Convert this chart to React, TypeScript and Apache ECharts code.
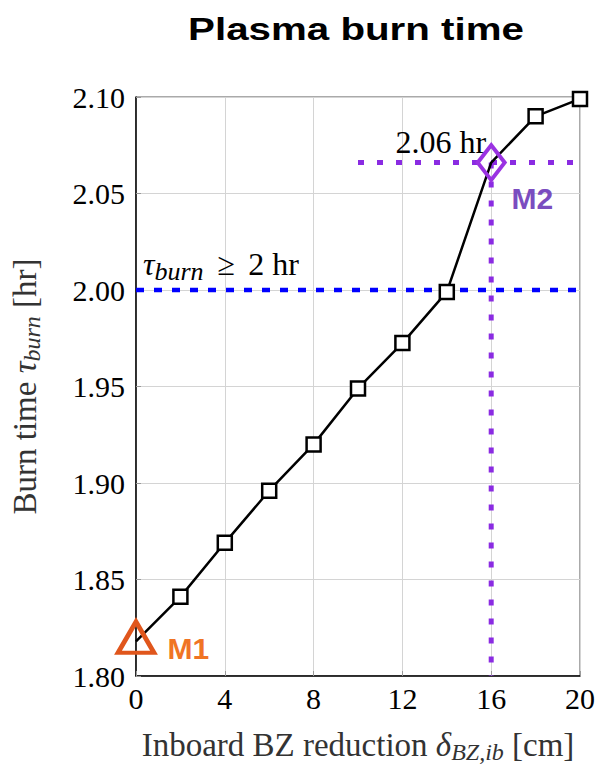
import React, { useEffect, useRef } from "react";
import * as echarts from "echarts";

const reductionCm = [0, 2, 4, 6, 8, 10, 12, 14, 16, 18, 20];
const burnTimeHr = [1.818, 1.841, 1.869, 1.896, 1.92, 1.949, 1.9725, 1.999, 2.066, 2.09, 2.099];
const xTicks = [0, 4, 8, 12, 16, 20];
const yTicks = [1.8, 1.85, 1.9, 1.95, 2.0, 2.05, 2.1];
const requirementHr = 2.0;
const m1 = [0, 1.818];
const m2 = [16, 2.066];
const m2HLineFromX = 10;

const SERIF = "'Liberation Serif', 'DejaVu Serif', serif";
const SANS = "'Liberation Sans', Arial, sans-serif";

export default function App() {
  const ref = useRef<HTMLDivElement>(null);
  useEffect(() => {
    if (!ref.current) return;
    const chart = echarts.init(ref.current, null, { renderer: "svg" });
    const mainPts = reductionCm.map((x, i) => [x, burnTimeHr[i]]);
    const squarePts = mainPts.filter((p) => p[0] !== m1[0] && p[0] !== m2[0]);
    const nameRich = {
      n: { fontFamily: SERIF, fontSize: 33, color: "#333" },
      g: { fontFamily: SERIF, fontSize: 33, fontStyle: "italic", color: "#333" },
      s: { fontFamily: SERIF, fontSize: 24, fontStyle: "italic", color: "#333", padding: [14, 0, 0, 0] },
    };
    chart.setOption({
      animation: false,
      backgroundColor: "#ffffff",
      graphic: [
        {
          type: "text",
          x: 356,
          y: 29,
          scaleX: 1.3,
          style: {
            text: "Plasma burn time",
            fontFamily: SANS,
            fontWeight: "bold",
            fontSize: 31,
            fill: "#000",
            align: "center",
            verticalAlign: "middle",
          },
        },
      ],
      grid: {
        left: 136,
        right: 19,
        top: 97,
        bottom: 89,
        show: true,
        borderColor: "#555",
        borderWidth: 1,
        outerBoundsMode: "none",
        containLabel: false,
      },
      xAxis: {
        type: "value",
        min: 0,
        max: 20,
        interval: 4,
        name: "{n|Inboard BZ reduction }{g|δ}{s|BZ,ib}{n| [cm]}",
        nameLocation: "middle",
        nameGap: 50,
        nameTextStyle: { rich: nameRich },
        axisLine: { show: true, lineStyle: { color: "#000", width: 1.5 } },
        axisTick: { show: true, inside: true, length: 5, lineStyle: { color: "#999" } },
        axisLabel: {
          fontFamily: SERIF,
          fontSize: 30,
          color: "#000",
          margin: 7,
          customValues: xTicks,
        },
        splitLine: { show: true, lineStyle: { color: "#d4d4d4", width: 1 } },
      },
      yAxis: {
        type: "value",
        min: 1.8,
        max: 2.1,
        interval: 0.05,
        name: "{n|Burn time }{g|τ}{s|burn}{n| [hr]}",
        nameLocation: "middle",
        nameGap: 92,
        nameRotate: 90,
        nameTextStyle: { rich: nameRich },
        axisLine: { show: true, lineStyle: { color: "#000", width: 1.5 } },
        axisTick: { show: true, inside: true, length: 5, lineStyle: { color: "#999" } },
        axisLabel: {
          fontFamily: SERIF,
          fontSize: 30,
          color: "#000",
          margin: 11,
          formatter: (v: number) => (yTicks.some((t) => Math.abs(t - v) < 1e-9) ? v.toFixed(2) : ""),
        },
        splitLine: { show: true, lineStyle: { color: "#d4d4d4", width: 1 } },
      },
      series: [
        {
          type: "line",
          data: mainPts,
          showSymbol: false,
          symbol: "none",
          lineStyle: { color: "#000", width: 2.5 },
          z: 3,
        },
        {
          type: "line",
          data: [
            [0, requirementHr],
            [20, requirementHr],
          ],
          symbol: "none",
          lineStyle: { color: "#0000ff", width: 4.5, type: [8, 10] },
          z: 4,
        },
        {
          type: "line",
          data: [
            [m2HLineFromX, m2[1]],
            [20, m2[1]],
          ],
          symbol: "none",
          lineStyle: { color: "#8a2be2", width: 5, type: [6, 13] },
          z: 2,
        },
        {
          type: "line",
          data: [
            [m2[0], m2[1]],
            [m2[0], 1.8],
          ],
          symbol: "none",
          lineStyle: { color: "#8a2be2", width: 5, type: [6, 13] },
          z: 2,
        },
        {
          type: "scatter",
          data: squarePts,
          symbol: "rect",
          symbolSize: 14,
          itemStyle: { color: "#fff", borderColor: "#000", borderWidth: 2.5, opacity: 1 },
          z: 6,
        },
        {
          type: "scatter",
          data: [m1],
          symbol: "triangle",
          symbolSize: [36, 31],
          symbolOffset: [0, -4],
          itemStyle: { color: "rgba(0,0,0,0)", borderColor: "#e0561c", borderWidth: 4.5, opacity: 1 },
          label: {
            show: true,
            formatter: "M1",
            position: "right",
            offset: [6, 11],
            fontFamily: SANS,
            fontWeight: "bold",
            fontSize: 30,
            color: "#f07424",
          },
          z: 7,
        },
        {
          type: "scatter",
          data: [m2],
          symbol: "diamond",
          symbolSize: [27, 35],
          itemStyle: { color: "rgba(0,0,0,0)", borderColor: "#9a32e2", borderWidth: 4, opacity: 1 },
          label: {
            show: true,
            formatter: "M2",
            position: "right",
            offset: [0, 36],
            fontFamily: SANS,
            fontWeight: "bold",
            fontSize: 30,
            color: "#7a4cc0",
          },
          z: 7,
        },
        {
          type: "scatter",
          data: [[m2[0], m2[1]]],
          symbolSize: 0,
          silent: true,
          itemStyle: { opacity: 1 },
          label: {
            show: true,
            formatter: "2.06 hr",
            position: "left",
            offset: [0, -21],
            fontFamily: SERIF,
            fontSize: 32,
            color: "#000",
          },
          z: 8,
        },
        {
          type: "scatter",
          data: [[0, requirementHr]],
          symbolSize: 0,
          silent: true,
          itemStyle: { opacity: 1 },
          label: {
            show: true,
            position: "right",
            offset: [2, -26],
            formatter: "{g|τ}{s|burn}{m|≥}{n|2 hr}",
            rich: {
              n: { fontFamily: SERIF, fontSize: 32, color: "#000" },
              m: { fontFamily: SERIF, fontSize: 32, color: "#000", padding: [0, 13, 0, 14] },
              g: { fontFamily: SERIF, fontSize: 32, fontStyle: "italic", color: "#000" },
              s: { fontFamily: SERIF, fontSize: 26, fontStyle: "italic", color: "#000", padding: [14, 0, 0, 0] },
            },
          },
          z: 8,
        },
      ],
    });
    return () => chart.dispose();
  }, []);
  return <div ref={ref} style={{ width: 599, height: 765, position: "absolute", left: 0, top: 0 }} />;
}
